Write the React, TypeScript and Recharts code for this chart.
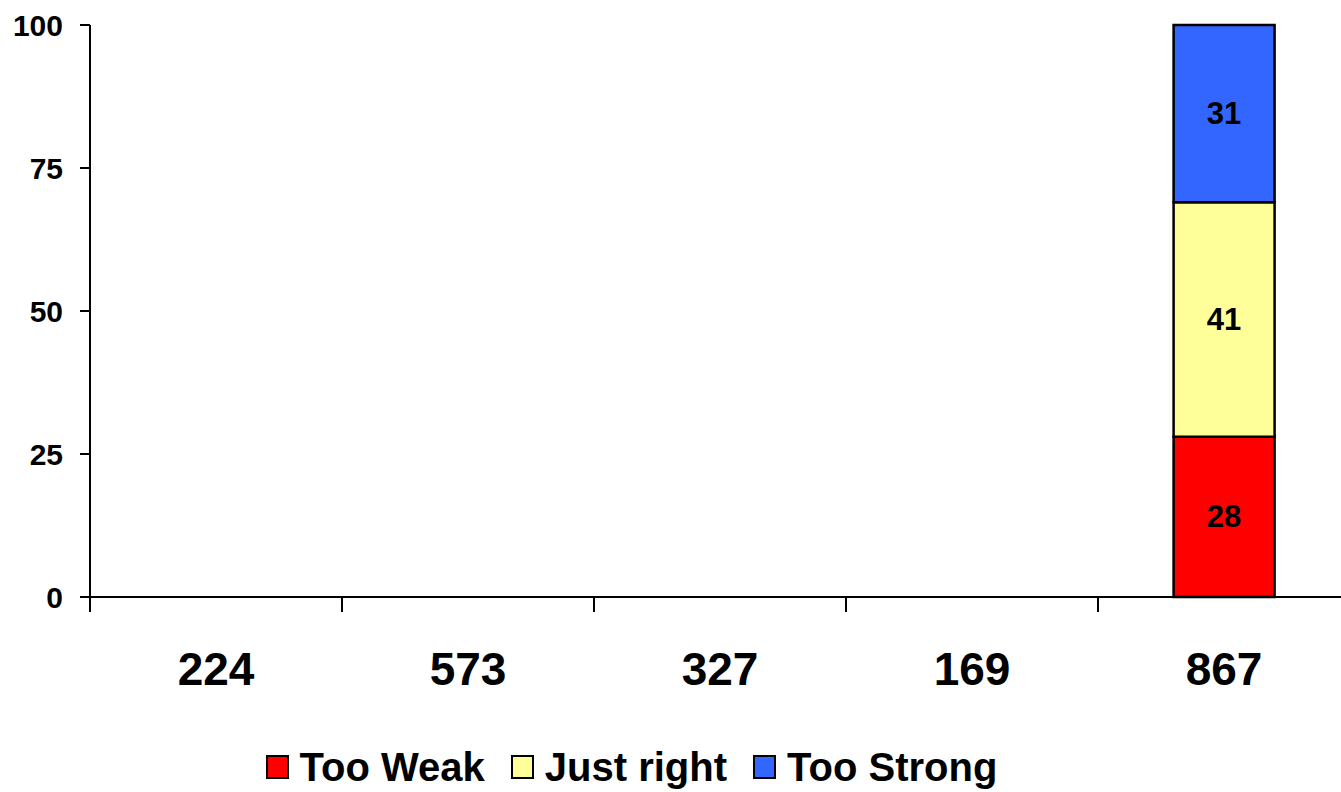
import { BarChart, Bar, XAxis, YAxis, Legend, LabelList } from "recharts";

const categories = ["224", "573", "327", "169", "867"];
const tooWeak = [null, null, null, null, 28];
const justRight = [null, null, null, null, 41];
const tooStrong = [null, null, null, null, 31];
const yTicks = [0, 25, 50, 75, 100];

const series = [
  { key: "tooWeak", name: "Too Weak", color: "#FF0000" },
  { key: "justRight", name: "Just right", color: "#FFFF99" },
  { key: "tooStrong", name: "Too Strong", color: "#3366FF" },
];

const data = categories.map((c, i) => ({
  name: c,
  tooWeak: tooWeak[i],
  justRight: justRight[i],
  tooStrong: tooStrong[i],
}));

const FONT = "'Liberation Sans', Arial, sans-serif";
const CHART_W = 1350;
const CHART_H = 792;
const PLOT_LEFT = 90;
const BAND = (CHART_W - PLOT_LEFT) / categories.length;

function CategoryTick(props: any) {
  const { x, y, payload } = props;
  const edge = x - BAND / 2;
  return (
    <g>
      <line x1={edge} y1={y} x2={edge} y2={y + 15} stroke="#000" strokeWidth={2} />
      <text
        x={x}
        y={y + 88}
        textAnchor="middle"
        fontFamily={FONT}
        fontWeight="bold"
        fontSize={46}
        fill="#000"
      >
        {payload.value}
      </text>
    </g>
  );
}

function SegmentLabel(props: any) {
  const { x, y, width, height, value } = props;
  if (value == null || value === 0) return null;
  return (
    <text
      x={x + width / 2}
      y={y + height / 2}
      textAnchor="middle"
      dominantBaseline="central"
      fontFamily={FONT}
      fontWeight="bold"
      fontSize={31}
      fill="#000"
    >
      {value}
    </text>
  );
}

function LegendBox() {
  return (
    <div
      style={{
        display: "flex",
        justifyContent: "center",
        alignItems: "center",
        gap: 26,
        height: 50,
        width: 1341,
        paddingRight: 78,
        boxSizing: "border-box",
        fontFamily: FONT,
        fontWeight: "bold",
        fontSize: 40,
        color: "#000",
      }}
    >
      {series.map((s) => (
        <div key={s.key} style={{ display: "flex", alignItems: "center" }}>
          <span
            style={{
              display: "inline-block",
              width: 19,
              height: 20,
              background: s.color,
              border: "2px solid #000",
              marginRight: 11,
            }}
          />
          <span>{s.name}</span>
        </div>
      ))}
    </div>
  );
}

export default function App() {
  return (
    <div
      style={{
        position: "absolute",
        left: 0,
        top: 0,
        width: 1341,
        height: 792,
        overflow: "hidden",
        background: "#fff",
      }}
    >
      <BarChart
        width={CHART_W}
        height={CHART_H}
        data={data}
        margin={{ top: 25, right: 0, left: 0, bottom: 0 }}
        barCategoryGap="30%"
      >
        <XAxis
          dataKey="name"
          height={145}
          tickSize={0}
          tickMargin={0}
          tickLine={false}
          axisLine={{ stroke: "#000", strokeWidth: 2 }}
          tick={<CategoryTick />}
          interval={0}
        />
        <YAxis
          width={PLOT_LEFT}
          domain={[0, 100]}
          ticks={yTicks}
          tickSize={10}
          tickMargin={17}
          axisLine={{ stroke: "#000", strokeWidth: 2 }}
          tickLine={{ stroke: "#000", strokeWidth: 2 }}
          tick={{ fill: "#000", fontSize: 30, fontWeight: "bold", fontFamily: FONT }}
        />
        <Legend verticalAlign="bottom" height={50} content={() => <LegendBox />} />
        {series.map((s) => (
          <Bar
            key={s.key}
            dataKey={s.key}
            name={s.name}
            stackId="a"
            fill={s.color}
            stroke="#000"
            strokeWidth={2.5}
            isAnimationActive={false}
          >
            <LabelList dataKey={s.key} content={<SegmentLabel />} />
          </Bar>
        ))}
      </BarChart>
    </div>
  );
}
